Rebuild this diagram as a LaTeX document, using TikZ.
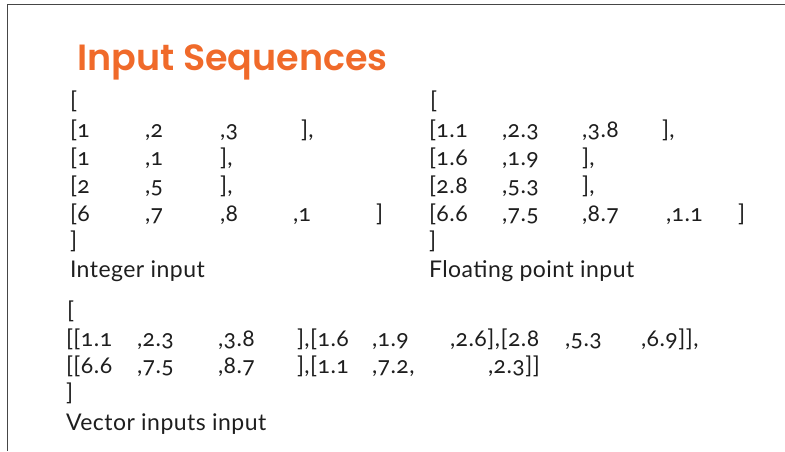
\documentclass[tikz,border=0pt]{standalone}
\usepackage{fontspec}
\setmainfont{Lato}[Numbers=OldStyle, LetterSpace=2]
\newfontfamily\titlefont{Poppins}[BoldFont={* SemiBold}]
\definecolor{ttl}{RGB}{240,106,42}
\definecolor{ink}{RGB}{30,30,30}
\definecolor{frame}{RGB}{70,70,70}
\tikzset{
  tok/.style={anchor=base west, inner sep=0pt, outer sep=0pt, text=ink, font=\fontsize{23}{23}\selectfont},
  ttlstyle/.style={anchor=base west, inner sep=0pt, text=ttl, font=\titlefont\bfseries\fontsize{36.5}{36.5}\selectfont},
  framestyle/.style={draw=frame, line width=1.2pt}
}
\newcommand\tk[4]{\node[tok] (#1) at (#2pt,-#3pt) {#4};}
\begin{document}
\begin{tikzpicture}[x=1pt,y=1pt]
\useasboundingbox (0,0) rectangle (785,-451);
\coordinate (fa) at (785,-4.5);
\coordinate (fb) at (7.5,-4.5);
\coordinate (fc) at (7.5,-451);
\draw[framestyle] (fa) -- (fb) -- (fc);
\node[ttlstyle] (title) at (77,-70) {Input Sequences};
% left block
\tk{lo}{70}{108}{[}
\tk{la1}{70}{137}{[1}
\tk{la2}{145}{137}{,2}
\tk{la3}{220}{137}{,3}
\tk{la4}{301}{137}{],}
\tk{lb1}{70}{165}{[1}
\tk{lb2}{145}{165}{,1}
\tk{lb3}{220}{165}{],}
\tk{lc1}{70}{193}{[2}
\tk{lc2}{145}{193}{,5}
\tk{lc3}{220}{193}{],}
\tk{ld1}{70}{221}{[6}
\tk{ld2}{145}{221}{,7}
\tk{ld3}{220}{221}{,8}
\tk{ld4}{293}{221}{,1}
\tk{ld5}{376}{221}{]}
\tk{lz}{70}{248}{]}
\tk{lcap}{70}{277}{Integer input}
% right block
\tk{ro}{430}{108}{[}
\tk{ra1}{429}{137}{[1.1}
\tk{ra2}{502}{137}{,2.3}
\tk{ra3}{582}{137}{,3.8}
\tk{ra4}{662}{137}{],}
\tk{rb1}{429}{165}{[1.6}
\tk{rb2}{502}{165}{,1.9}
\tk{rb3}{582}{165}{],}
\tk{rc1}{429}{193}{[2.8}
\tk{rc2}{502}{193}{,5.3}
\tk{rc3}{582}{193}{],}
\tk{rd1}{429}{221}{[6.6}
\tk{rd2}{502}{221}{,7.5}
\tk{rd3}{582}{221}{,8.7}
\tk{rd4}{666}{221}{,1.1}
\tk{rd5}{738}{221}{]}
\tk{rz}{429}{248}{]}
\tk{rcap}{429}{277}{Floating point input}
% bottom block
\tk{vo}{67}{318}{[}
\tk{va1}{66}{346}{[[1.1}
\tk{va2}{137}{346}{,2.3}
\tk{va3}{218}{346}{,3.8}
\tk{va4}{297}{346}{],[1.6}
\tk{va5}{372}{346}{,1.9}
\tk{va6}{450}{346}{,2.6],[2.8}
\tk{va7}{565}{346}{,5.3}
\tk{va8}{641}{346}{,6.9]],}
\tk{vb1}{66}{373}{[[6.6}
\tk{vb2}{137}{373}{,7.5}
\tk{vb3}{218}{373}{,8.7}
\tk{vb4}{297}{373}{],[1.1}
\tk{vb5}{372}{373}{,7.2,}
\tk{vb6}{488}{373}{,2.3]]}
\tk{vz}{66}{400}{]}
\tk{vcap}{66}{430}{Vector inputs input}
\end{tikzpicture}
\end{document}
